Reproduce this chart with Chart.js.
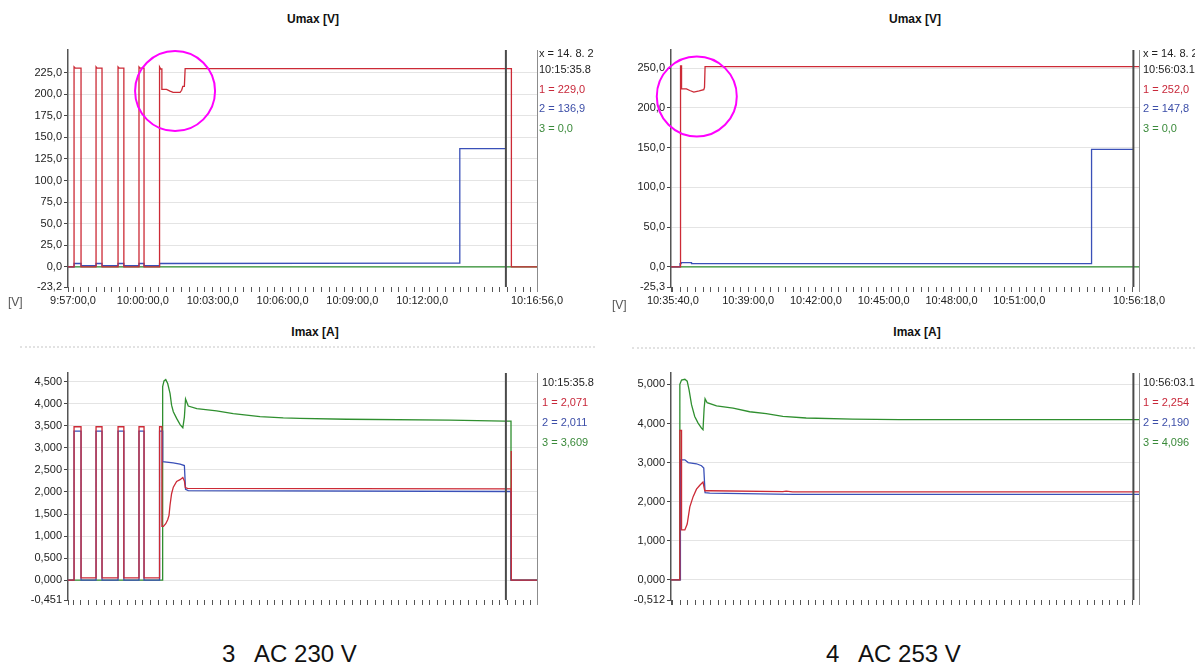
<!DOCTYPE html>
<html>
<head>
<meta charset="utf-8">
<script src="https://cdn.jsdelivr.net/npm/chart.js@4.4.0/dist/chart.umd.min.js"></script>
<style>
  body { margin: 0; background: #fff; width: 1195px; height: 667px; position: relative; overflow: hidden;
         font-family: 'Liberation Sans', Arial, sans-serif; }
  canvas { position: absolute; }
  .txt { position: absolute; white-space: pre; font-size: 11px; line-height: 14px; color: #222; }
  .clip { position: absolute; overflow: hidden; }
  .title { position: absolute; width: 120px; text-align: center; font-weight: bold; font-size: 12px; color: #111; }
  .cap { position: absolute; white-space: pre; font-size: 24px; color: #111; }
  .red { color: #c8283a; } .blue { color: #3c4ea8; } .green { color: #3a8a3a; }
  .smudge { position: absolute; height: 0; border-top: 2px dotted #e2e2e2; }
</style>
</head>
<body>
<canvas id="tl" width="600" height="275" style="left:0;top:40px"></canvas>
<canvas id="tr" width="595" height="275" style="left:600px;top:40px"></canvas>
<canvas id="bl" width="600" height="265" style="left:0;top:363px"></canvas>
<canvas id="br" width="595" height="265" style="left:600px;top:363px"></canvas>

<div class="title" style="left:253px;top:12px">Umax [V]</div>
<div class="title" style="left:855px;top:12px">Umax [V]</div>
<div class="title" style="left:255px;top:325px">Imax [A]</div>
<div class="title" style="left:857px;top:325px">Imax [A]</div>

<div class="txt" style="left:8px;top:295px;font-size:12px;color:#555">[V]</div>
<div class="txt" style="left:612px;top:298px;font-size:12px;color:#555">[V]</div>

<div class="smudge" style="left:20px;top:346px;width:575px"></div>
<div class="smudge" style="left:632px;top:347px;width:563px"></div>

<!-- cursor readouts -->
<div class="clip" style="left:539px;top:40px;width:57px;height:100px">
  <div class="txt" style="left:0;top:6px">x = 14. 8. 2</div>
  <div class="txt" style="left:0;top:22px">10:15:35.8</div>
  <div class="txt red" style="left:0;top:42px">1 = 229,0</div>
  <div class="txt blue" style="left:0;top:61px">2 = 136,9</div>
  <div class="txt green" style="left:0;top:81px">3 = 0,0</div>
</div>
<div class="clip" style="left:1143px;top:40px;width:52px;height:100px">
  <div class="txt" style="left:0;top:6px">x = 14. 8. 2</div>
  <div class="txt" style="left:0;top:22px">10:56:03.1</div>
  <div class="txt red" style="left:0;top:42px">1 = 252,0</div>
  <div class="txt blue" style="left:0;top:61px">2 = 147,8</div>
  <div class="txt green" style="left:0;top:81px">3 = 0,0</div>
</div>
<div class="clip" style="left:542px;top:370px;width:54px;height:85px">
  <div class="txt" style="left:0;top:5px">10:15:35.8</div>
  <div class="txt red" style="left:0;top:25px">1 = 2,071</div>
  <div class="txt blue" style="left:0;top:45px">2 = 2,011</div>
  <div class="txt green" style="left:0;top:65px">3 = 3,609</div>
</div>
<div class="clip" style="left:1143px;top:370px;width:52px;height:85px">
  <div class="txt" style="left:0;top:5px">10:56:03.1</div>
  <div class="txt red" style="left:0;top:25px">1 = 2,254</div>
  <div class="txt blue" style="left:0;top:45px">2 = 2,190</div>
  <div class="txt green" style="left:0;top:65px">3 = 4,096</div>
</div>

<div class="cap" style="left:222px;top:640px">3   AC 230 V</div>
<div class="cap" style="left:826px;top:640px">4   AC 253 V</div>

<script>
// time is seconds from the first labelled tick (09:57:00 left, 10:35:40 right)

// --- AC 230 V: x axis ---
const leftXMin = -13, leftXMax = 1196;
const leftTickSecs = [0, 180, 360, 540, 720, 900, 1196];
const leftTickLabels = ['9:57:00,0', '10:00:00,0', '10:03:00,0', '10:06:00,0', '10:09:00,0', '10:12:00,0', '10:16:56,0'];
const leftCursor = 1115.8;

// --- AC 253 V: x axis ---
const rightXMin = -5, rightXMax = 1238;
const rightTickSecs = [0, 200, 380, 560, 740, 920, 1238];
const rightTickLabels = ['10:35:40,0', '10:39:00,0', '10:42:00,0', '10:45:00,0', '10:48:00,0', '10:51:00,0', '10:56:18,0'];
const rightCursor = 1223.1;

// --- Umax, AC 230 V ---
const tlYTicks = [-23.2, 0, 25, 50, 75, 100, 125, 150, 175, 200, 225];
const tlRedT = [-13, 2.6, 2.6, 6, 20.6, 20.6, 59.3, 59.3, 62, 74.7, 74.7, 116, 116, 119, 131, 131, 170, 170, 173, 183, 183, 223, 223, 226, 229, 229, 241, 250, 258, 276, 280, 283, 287, 289, 1130, 1130, 1196];
const tlRedV = [0, 0, 231.5, 230, 230, 0, 0, 231.5, 230, 230, 0, 0, 231.5, 230, 230, 0, 0, 231.5, 230, 230, 0, 0, 231.5, 229, 229, 205.5, 205.5, 203.5, 202, 202, 204.4, 209, 209, 229.5, 229.5, 0, 0];
const tlBlueT = [-13, 2.6, 2.6, 20.6, 20.6, 59.3, 59.3, 74.7, 74.7, 116, 116, 131, 131, 170, 170, 183, 183, 223, 223, 990, 997, 997, 1116];
const tlBlueV = [0, 0, 4, 4, 1.5, 1.5, 4, 4, 1.5, 1.5, 4, 4, 1.5, 1.5, 4, 4, 1.5, 1.5, 4, 4.5, 4.5, 136.9, 136.9];
const tlGreenT = [-13, 1196];
const tlGreenV = [0, 0];
const tlMarkT = [263];
const tlMarkV = [203.5];

// --- Umax, AC 253 V ---
const trYTicks = [-25.3, 0, 50, 100, 150, 200, 250];
const trRedT = [-5, 20.3, 20.3, 23, 23, 36, 45, 55.6, 70, 82, 84, 85.5, 1238];
const trRedV = [0, 0, 253, 253, 224.3, 224, 222, 220, 221.5, 223, 226, 252, 252];
const trBlueT = [-5, 19, 19, 22, 22, 49.5, 49.5, 1112, 1112, 1223];
const trBlueV = [0, 0, 4.2, 4.2, 5.4, 5.4, 4.2, 4.2, 147.8, 147.8];
const trGreenT = [-5, 1238];
const trGreenV = [0, 0];
const trMarkT = [63.5];
const trMarkV = [214.6];

// --- Imax, AC 230 V ---
const blYTicks = [-0.451, 0, 0.5, 1, 1.5, 2, 2.5, 3, 3.5, 4, 4.5];
const blRedT = [-13, 2.6, 2.6, 20.6, 20.6, 59.3, 59.3, 74.7, 74.7, 116, 116, 131, 131, 170, 170, 183, 183, 223, 223, 229, 229, 233, 239, 244, 247.4, 250, 254, 258.5, 267, 276, 283, 287, 289.4, 295, 1129, 1129, 1130, 1130, 1196];
const blRedV = [0, 0, 3.48, 3.48, 0.05, 0.05, 3.48, 3.48, 0.05, 0.05, 3.48, 3.48, 0.05, 0.05, 3.48, 3.48, 0.05, 0.05, 3.48, 3.48, 1.22, 1.22, 1.28, 1.37, 1.47, 1.7, 1.96, 2.11, 2.24, 2.28, 2.33, 2.25, 2.1, 2.08, 2.07, 2.93, 2.93, 0, 0];
const blBlueT = [-13, 2.6, 2.6, 20.6, 20.6, 59.3, 59.3, 74.7, 74.7, 116, 116, 131, 131, 170, 170, 183, 183, 223, 223, 231, 231, 258, 276, 287, 290, 297, 1129, 1129, 1196];
const blBlueV = [0, 0, 3.38, 3.38, 0, 0, 3.38, 3.38, 0, 0, 3.38, 3.38, 0, 0, 3.38, 3.38, 0, 0, 3.38, 3.38, 2.69, 2.66, 2.63, 2.6, 2.06, 2.03, 2.011, 0, 0];
const blGreenT = [-13, 231, 231, 234.5, 239, 244, 250, 254, 258.5, 267, 276, 283, 287, 290, 297, 319, 370, 413, 482, 542, 585, 705, 971, 1113, 1129, 1129, 1196];
const blGreenV = [0, 0, 4.39, 4.52, 4.55, 4.46, 4.24, 3.97, 3.82, 3.67, 3.53, 3.46, 3.7, 4.11, 3.95, 3.89, 3.84, 3.78, 3.71, 3.68, 3.67, 3.65, 3.63, 3.61, 3.609, 0, 0];

// --- Imax, AC 253 V ---
const brYTicks = [-0.512, 0, 1, 2, 3, 4, 5];
const brRedT = [-5, 18.5, 18.5, 23, 23, 31.8, 38, 45, 53.8, 62.7, 71.5, 80, 84.7, 98, 292, 301, 318, 1238];
const brRedV = [0, 0, 3.82, 3.82, 1.28, 1.28, 1.43, 1.87, 2.13, 2.32, 2.42, 2.5, 2.28, 2.28, 2.26, 2.27, 2.254, 2.254];
const brBlueT = [-5, 19, 19, 21, 31.8, 40.6, 62.7, 76, 82, 85.5, 98, 318, 1238];
const brBlueV = [0, 0, 3.07, 3.07, 3.07, 3.0, 2.97, 2.92, 2.86, 2.23, 2.22, 2.19, 2.19];
const brGreenT = [-5, 18.5, 18.5, 23, 31.8, 38, 43, 49.5, 58, 67, 76, 80, 83, 85.5, 91, 116, 160, 204, 248, 292, 354, 477, 601, 1238];
const brGreenV = [0, 0, 5.0, 5.11, 5.13, 5.08, 4.86, 4.48, 4.18, 4.01, 3.88, 3.84, 4.39, 4.63, 4.53, 4.45, 4.39, 4.3, 4.25, 4.18, 4.14, 4.11, 4.1, 4.096];

const RED = '#cc2a36', BLUE = '#3a50b8', GREEN = '#2f8f2f';

Chart.defaults.font.family = "'Liberation Sans', Arial, sans-serif";

const toPts = (ts, vs) => ts.map((t, i) => ({ x: t, y: vs[i] }));

// every 20 s a small tick, plus the labelled ones and the axis ends
function minorTicks(min, max, labelled) {
  const out = new Set([min, max, ...labelled]);
  for (let t = 0; t <= max; t += 20) out.add(t);
  return [...out].filter(t => t >= min && t <= max).sort((a, b) => a - b);
}

const rightEdge = {
  id: 'rightEdge',
  afterDatasetsDraw(chart) {
    const { ctx, chartArea: a } = chart;
    const x = Math.round(a.right) + 0.5;
    ctx.save();
    ctx.strokeStyle = '#8c8c8c';
    ctx.lineWidth = 1;
    ctx.beginPath();
    ctx.moveTo(x, a.top);
    ctx.lineTo(x, a.bottom + 5);
    ctx.stroke();
    ctx.restore();
  }
};

function line(data, color) {
  return { data, borderColor: color, borderWidth: 1.3, showLine: true, pointRadius: 0, tension: 0 };
}

function makePanel(id, p) {
  const xTicks = minorTicks(p.xMin, p.xMax, p.tickSecs);
  const datasets = [];
  if (p.mark) {
    datasets.push({
      data: p.mark, showLine: false, pointRadius: 40, pointBorderWidth: 2,
      pointBorderColor: '#ff00ff', pointBackgroundColor: 'rgba(0,0,0,0)', clip: false
    });
  }
  datasets.push({
    data: [{ x: p.cursor, y: p.yMin }, { x: p.cursor, y: p.yMax }],
    borderColor: '#4a4a4a', borderWidth: 2, showLine: true, pointRadius: 0
  });
  datasets.push(line(p.red, RED), line(p.blue, BLUE), line(p.green, GREEN));

  new Chart(document.getElementById(id), {
    type: 'scatter',
    data: { datasets },
    plugins: [rightEdge],
    options: {
      responsive: false,
      animation: false,
      devicePixelRatio: 1,
      layout: { autoPadding: false, padding: { left: 0, top: 10, right: p.padRight, bottom: 0 } },
      plugins: { legend: { display: false }, tooltip: { enabled: false } },
      scales: {
        x: {
          type: 'linear', min: p.xMin, max: p.xMax,
          afterBuildTicks: s => { s.ticks = xTicks.map(v => ({ value: v })); },
          afterFit: s => { s.height = 28; },
          ticks: {
            autoSkip: false, maxRotation: 0, minRotation: 0, padding: 2,
            color: '#222', font: { size: 11 },
            callback: v => {
              const i = p.tickSecs.indexOf(v);
              return p.showLabels && i >= 0 ? p.tickLabels[i] : '';
            }
          },
          grid: { drawOnChartArea: false, drawTicks: true, tickLength: 5, tickColor: '#555' },
          border: { display: false }
        },
        y: {
          type: 'linear', min: p.yMin, max: p.yMax,
          afterBuildTicks: s => { s.ticks = p.yTicks.map(v => ({ value: v })); },
          afterFit: s => { s.width = p.yWidth; },
          ticks: {
            padding: 2, color: '#222', font: { size: 11 },
            callback: v => v.toFixed(p.digits).replace('.', ',')
          },
          grid: {
            color: c => (c.tick && c.tick.value === p.yMin) ? 'rgba(0,0,0,0)' : '#e4e4e4',
            tickColor: '#444', tickLength: 4
          },
          border: { display: true, color: '#555', width: 1.5 }
        }
      }
    }
  });
}

makePanel('tl', {
  xMin: leftXMin, xMax: leftXMax, tickSecs: leftTickSecs, tickLabels: leftTickLabels, showLabels: true,
  yMin: -23.2, yMax: 251, yTicks: tlYTicks, digits: 1, yWidth: 68, padRight: 63,
  cursor: leftCursor, red: toPts(tlRedT, tlRedV), blue: toPts(tlBlueT, tlBlueV), green: toPts(tlGreenT, tlGreenV),
  mark: toPts(tlMarkT, tlMarkV)
});
makePanel('tr', {
  xMin: rightXMin, xMax: rightXMax, tickSecs: rightTickSecs, tickLabels: rightTickLabels, showLabels: true,
  yMin: -25.3, yMax: 273, yTicks: trYTicks, digits: 1, yWidth: 71, padRight: 56,
  cursor: rightCursor, red: toPts(trRedT, trRedV), blue: toPts(trBlueT, trBlueV), green: toPts(trGreenT, trGreenV),
  mark: toPts(trMarkT, trMarkV)
});
makePanel('bl', {
  xMin: leftXMin, xMax: leftXMax, tickSecs: leftTickSecs, tickLabels: leftTickLabels, showLabels: false,
  yMin: -0.451, yMax: 4.70, yTicks: blYTicks, digits: 3, yWidth: 68, padRight: 63,
  cursor: leftCursor, red: toPts(blRedT, blRedV), blue: toPts(blBlueT, blBlueV), green: toPts(blGreenT, blGreenV)
});
makePanel('br', {
  xMin: rightXMin, xMax: rightXMax, tickSecs: rightTickSecs, tickLabels: rightTickLabels, showLabels: false,
  yMin: -0.512, yMax: 5.29, yTicks: brYTicks, digits: 3, yWidth: 71, padRight: 56,
  cursor: rightCursor, red: toPts(brRedT, brRedV), blue: toPts(brBlueT, brBlueV), green: toPts(brGreenT, brGreenV)
});
</script>
</body>
</html>
